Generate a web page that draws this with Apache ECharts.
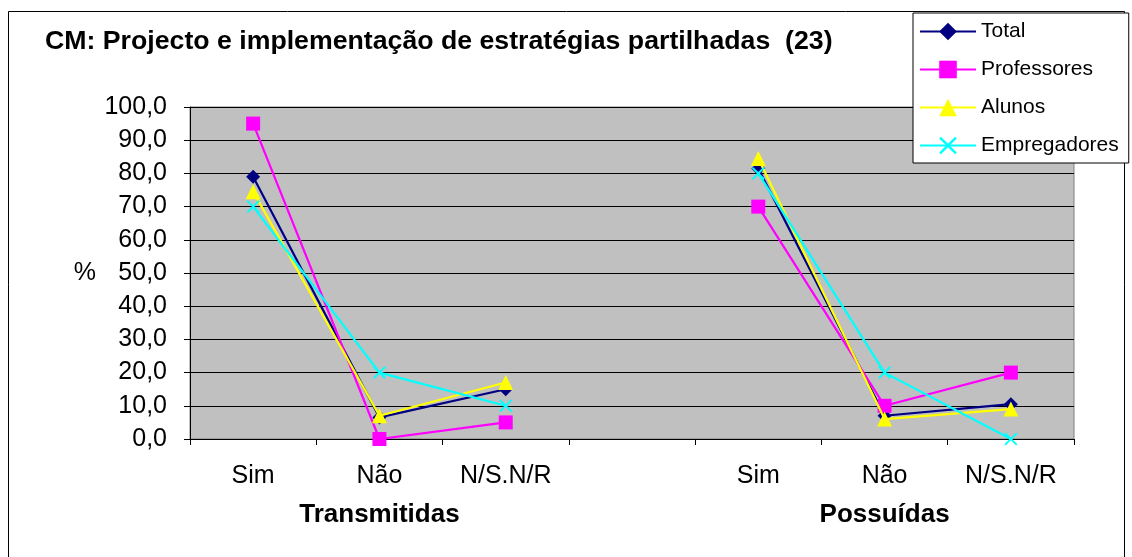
<!DOCTYPE html>
<html>
<head>
<meta charset="utf-8">
<script src="https://cdn.jsdelivr.net/npm/echarts@6/dist/echarts.min.js"></script>
<style>
html,body{margin:0;padding:0;background:#fff;}
#c{width:1132px;height:557px;}
</style>
</head>
<body>
<div id="c"></div>
<script>
const categories = ['Sim', 'Não', 'N/S.N/R', '', 'Sim', 'Não', 'N/S.N/R'];
const groupLabels = ['', 'Transmitidas', '', '', '', 'Possuídas', ''];
const seriesNames = ['Total', 'Professores', 'Alunos', 'Empregadores'];
const total = [79, 6.5, 15, null, 81.5, 7, 10.5];
const professores = [95, 0, 5, null, 70, 10, 20];
const alunos = [74.5, 7, 17, null, 84.5, 6, 9];
const empregadores = [70, 20, 10, null, 80, 20, 0];
const yTicks = { min: 0, max: 100, interval: 10 };

const FONT = 'Liberation Sans, Arial, sans-serif';
const crossPath = 'path://M0,1 L1,0 L5,4 L9,0 L10,1 L6,5 L10,9 L9,10 L5,6 L1,10 L0,9 L4,5 Z';

const styles = [
  { color: '#000080', symbol: 'diamond', size: 14 },
  { color: '#FF00FF', symbol: 'rect', size: 14 },
  { color: '#FFFF00', symbol: 'triangle', size: 15 },
  { color: '#00FFFF', symbol: crossPath, size: 13 }
];
const values = [total, professores, alunos, empregadores];

const chart = echarts.init(document.getElementById('c'));
chart.setOption({
  animation: false,
  backgroundColor: '#fff',
  textStyle: { fontFamily: FONT, color: '#000' },
  title: {
    text: 'CM: Projecto e implementação de estratégias partilhadas  (23)',
    left: 40, top: 23,
    textStyle: { fontFamily: FONT, fontWeight: 'bold', fontSize: 26.7, color: '#000' }
  },
  graphic: [{
    type: 'rect', z: -1, silent: true,
    shape: { x: 8.5, y: 11.5, width: 1116, height: 600 },
    style: { fill: 'none', stroke: '#000', lineWidth: 1 }
  }],
  legend: {
    data: seriesNames,
    orient: 'vertical',
    left: 913, top: 13,
    padding: [8, 10, 7, 6],
    itemGap: 17,
    itemWidth: 56, itemHeight: 22,
    backgroundColor: '#fff',
    borderColor: '#000', borderWidth: 1,
    textStyle: { fontFamily: FONT, fontSize: 21, color: '#000' }
  },
  grid: {
    left: 190, right: 58, top: 107, bottom: 118,
    show: true, backgroundColor: '#C0C0C0', borderColor: '#808080', borderWidth: 1
  },
  xAxis: [{
    type: 'category', data: categories, boundaryGap: true, position: 'bottom',
    axisLine: { lineStyle: { color: '#000', width: 1 } },
    axisTick: { show: true, interval: 0, length: 6, lineStyle: { color: '#000' } },
    axisLabel: { interval: 0, fontSize: 25, color: '#000', fontFamily: FONT, margin: 25 },
    splitLine: { show: false }
  }, {
    type: 'category', data: groupLabels, boundaryGap: true, position: 'bottom', offset: 38,
    axisLine: { show: false }, axisTick: { show: false },
    axisLabel: { interval: 0, fontSize: 26, fontWeight: 'bold', color: '#000', fontFamily: FONT, margin: 25 },
    splitLine: { show: false }
  }],
  yAxis: {
    type: 'value', min: yTicks.min, max: yTicks.max, interval: yTicks.interval,
    name: '%', nameLocation: 'middle', nameRotate: 0, nameGap: 94,
    nameTextStyle: { fontSize: 25, color: '#000', fontFamily: FONT },
    axisLine: { show: true, lineStyle: { color: '#000', width: 1 } },
    axisTick: { show: true, length: 6, lineStyle: { color: '#000' } },
    axisLabel: { fontSize: 25, color: '#000', fontFamily: FONT, margin: 23,
      formatter: v => v.toFixed(1).replace('.', ',') },
    splitLine: { show: true, lineStyle: { color: '#000', width: 1 } }
  },
  series: seriesNames.map((name, i) => ({
    name, type: 'line', data: values[i], connectNulls: false,
    symbol: styles[i].symbol, symbolSize: styles[i].size, showSymbol: true,
    lineStyle: { color: styles[i].color, width: 2.2 },
    itemStyle: { color: styles[i].color, borderWidth: 0 },
    z: 2 + i
  }))
});
</script>
</body>
</html>
